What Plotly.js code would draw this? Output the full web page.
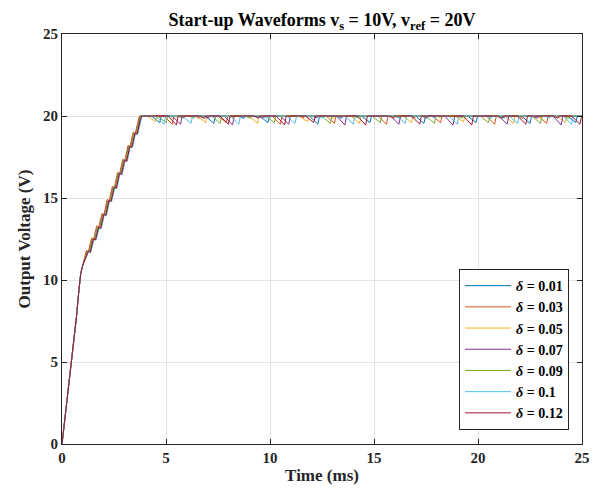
<!DOCTYPE html>
<html>
<head>
<meta charset="utf-8">
<script src="https://cdn.plot.ly/plotly-3.0.1.min.js"></script>
<style>html,body{margin:0;padding:0;background:#fff;}#chart{width:607px;height:500px;}</style>
</head>
<body>
<div id="chart"></div>
<script>
// Series names (legend labels)
const seriesNames = ["<i>δ</i> = 0.01", "<i>δ</i> = 0.03", "<i>δ</i> = 0.05", "<i>δ</i> = 0.07", "<i>δ</i> = 0.09", "<i>δ</i> = 0.1", "<i>δ</i> = 0.12"];
const seriesColors = ["#0072BD", "#D95319", "#EDB120", "#7E2F8E", "#77AC30", "#4DBEEE", "#A2142F"];

// Time (ms) and output voltage (V) for each δ
const t001 = [0,0.1,0.2,0.3,0.4,0.5,0.6,0.7,0.8,0.9,1.0,1.2,1.3,1.45,1.55,1.7,1.8,1.95,2.05,2.2,2.3,2.45,2.55,2.7,2.8,2.95,3.05,3.2,3.3,3.45,3.55,3.7,3.76,4.3,4.7,4.78,5.6,5.85,5.9,6.9,7.3,7.38,8.5,8.75,8.8,9.5,9.9,9.98,11.9,12.3,12.38,13.2,13.45,13.5,14.4,14.8,14.88,16.0,16.25,16.3,17.0,17.4,17.48,19.5,19.9,19.98,21.0,21.25,21.3,22.1,22.5,22.58,24.3,24.7,24.78,25];
const v001 = [0,1.1,2.2,3.3,4.3,5.3,6.5,7.8,9.2,10.4,10.9,11.75,11.7,12.5,12.45,13.2,13.15,14.0,13.95,14.85,14.8,15.65,15.6,16.5,16.45,17.3,17.25,18.15,18.1,18.95,18.9,19.8,20.0,20.0,19.6,20.0,20.0,19.88,20.0,20.0,19.55,20.0,20.0,19.85,20.0,20.0,19.6,20.0,20.0,19.5,20.0,20.0,19.87,20.0,20.0,19.6,20.0,20.0,19.86,20.0,20.0,19.55,20.0,20.0,19.6,20.0,20.0,19.88,20.0,20.0,19.55,20.0,20.0,19.6,20.0,20.0];

const t003 = [0,0.1,0.2,0.3,0.4,0.5,0.6,0.7,0.8,0.9,1.0,1.17,1.27,1.42,1.52,1.67,1.77,1.92,2.02,2.17,2.27,2.42,2.52,2.67,2.77,2.92,3.02,3.17,3.27,3.42,3.52,3.67,3.72,4.9,5.3,5.38,6.4,6.6,6.65,7.5,7.9,7.98,10.1,10.5,10.58,11.4,11.6,11.65,12.7,13.1,13.18,15.2,15.6,15.68,16.7,16.95,17.0,17.8,18.2,18.28,20.4,20.8,20.88,21.9,22.15,22.2,22.9,23.3,23.38,25];
const v003 = [0,1.1,2.2,3.3,4.3,5.3,6.5,7.8,9.2,10.4,10.9,11.8,11.75,12.55,12.5,13.3,13.25,14.05,14.0,14.9,14.85,15.7,15.65,16.55,16.5,17.35,17.3,18.2,18.15,19.0,18.95,19.85,20.0,20.0,19.5,20.0,20.0,19.86,20.0,20.0,19.6,20.0,20.0,19.5,20.0,20.0,19.87,20.0,20.0,19.55,20.0,20.0,19.5,20.0,20.0,19.88,20.0,20.0,19.6,20.0,20.0,19.5,20.0,20.0,19.86,20.0,20.0,19.55,20.0,20.0];

const t005 = [0,0.1,0.2,0.3,0.4,0.5,0.6,0.7,0.8,0.9,1.0,1.24,1.34,1.49,1.59,1.74,1.84,1.99,2.09,2.24,2.34,2.49,2.59,2.74,2.84,2.99,3.09,3.24,3.34,3.49,3.59,3.74,3.8,4.1,4.5,4.58,5.5,5.75,5.8,6.5,6.9,6.98,8.0,8.25,8.3,9.0,9.4,9.48,11.4,11.8,11.88,12.8,13.05,13.1,13.9,14.3,14.38,16.4,16.8,16.88,18.0,18.25,18.3,18.9,19.3,19.38,21.3,21.7,21.78,22.8,23.05,23.1,23.8,24.2,24.28,25];
const v005 = [0,1.1,2.2,3.3,4.3,5.3,6.5,7.8,9.2,10.4,10.9,11.75,11.7,12.5,12.45,13.2,13.15,14.0,13.95,14.85,14.8,15.65,15.6,16.5,16.45,17.3,17.25,18.15,18.1,18.95,18.9,19.8,20.0,20.0,19.65,20.0,20.0,19.88,20.0,20.0,19.6,20.0,20.0,19.87,20.0,20.0,19.55,20.0,20.0,19.65,20.0,20.0,19.86,20.0,20.0,19.55,20.0,20.0,19.6,20.0,20.0,19.88,20.0,20.0,19.65,20.0,20.0,19.55,20.0,20.0,19.87,20.0,20.0,19.6,20.0,20.0];

const t007 = [0,0.1,0.2,0.3,0.4,0.5,0.6,0.7,0.8,0.9,1.0,1.27,1.37,1.52,1.62,1.77,1.87,2.02,2.12,2.27,2.37,2.52,2.62,2.77,2.87,3.02,3.12,3.27,3.37,3.52,3.62,3.77,3.83,5.3,5.7,5.78,6.8,7.05,7.1,7.8,8.2,8.28,9.4,9.65,9.7,10.5,10.9,10.98,12.0,12.25,12.3,13.2,13.6,13.68,15.8,16.2,16.28,17.3,17.55,17.6,18.4,18.8,18.88,21.0,21.4,21.48,22.6,22.85,22.9,23.6,24.0,24.08,25];
const v007 = [0,1.1,2.2,3.3,4.3,5.3,6.5,7.8,9.2,10.4,10.9,11.75,11.7,12.5,12.45,13.2,13.15,14.0,13.95,14.85,14.8,15.65,15.6,16.5,16.45,17.3,17.25,18.15,18.1,18.95,18.9,19.8,20.0,20.0,19.5,20.0,20.0,19.86,20.0,20.0,19.45,20.0,20.0,19.87,20.0,20.0,19.5,20.0,20.0,19.88,20.0,20.0,19.45,20.0,20.0,19.5,20.0,20.0,19.86,20.0,20.0,19.45,20.0,20.0,19.5,20.0,20.0,19.87,20.0,20.0,19.45,20.0,20.0];

const t009 = [0,0.1,0.2,0.3,0.4,0.5,0.6,0.7,0.8,0.9,1.0,1.22,1.32,1.47,1.57,1.72,1.82,1.97,2.07,2.22,2.32,2.47,2.57,2.72,2.82,2.97,3.07,3.22,3.32,3.47,3.57,3.72,3.78,4.6,5.0,5.08,6.1,6.35,6.4,7.2,7.6,7.68,8.8,9.05,9.1,9.8,10.2,10.28,12.5,12.9,12.98,14.0,14.25,14.3,14.9,15.3,15.38,17.5,17.9,17.98,19.0,19.25,19.3,20.1,20.5,20.58,22.6,23.0,23.08,24.1,24.35,24.4,25];
const v009 = [0,1.1,2.2,3.3,4.3,5.3,6.5,7.8,9.2,10.4,10.9,11.75,11.7,12.5,12.45,13.2,13.15,14.0,13.95,14.85,14.8,15.65,15.6,16.5,16.45,17.3,17.25,18.15,18.1,18.95,18.9,19.8,20.0,20.0,19.6,20.0,20.0,19.87,20.0,20.0,19.55,20.0,20.0,19.86,20.0,20.0,19.6,20.0,20.0,19.55,20.0,20.0,19.88,20.0,20.0,19.6,20.0,20.0,19.55,20.0,20.0,19.87,20.0,20.0,19.6,20.0,20.0,19.55,20.0,20.0,19.86,20.0,20.0];

const t010 = [0,0.1,0.2,0.3,0.4,0.5,0.6,0.7,0.8,0.9,1.0,1.29,1.39,1.54,1.64,1.79,1.89,2.04,2.14,2.29,2.39,2.54,2.64,2.79,2.89,3.04,3.14,3.29,3.39,3.54,3.64,3.79,3.85,4.5,4.9,4.98,5.8,6.2,6.28,8.1,8.5,8.58,9.6,9.85,9.9,10.8,11.2,11.28,12.3,12.55,12.6,13.6,14.0,14.08,16.1,16.5,16.58,17.7,17.95,18.0,18.6,19.0,19.08,20.4,20.65,20.7,21.5,21.9,21.98,23.2,23.45,23.5,24.1,24.5,24.58,25];
const v010 = [0,1.1,2.2,3.3,4.3,5.3,6.5,7.8,9.2,10.4,10.9,11.75,11.7,12.5,12.45,13.2,13.15,14.0,13.95,14.85,14.8,15.65,15.6,16.5,16.45,17.3,17.25,18.15,18.1,18.95,18.9,19.8,20.0,20.0,19.5,20.0,20.0,19.55,20.0,20.0,19.5,20.0,20.0,19.86,20.0,20.0,19.55,20.0,20.0,19.87,20.0,20.0,19.5,20.0,20.0,19.55,20.0,20.0,19.88,20.0,20.0,19.5,20.0,20.0,19.86,20.0,20.0,19.55,20.0,20.0,19.87,20.0,20.0,19.5,20.0,20.0];

const t012 = [0,0.1,0.2,0.3,0.4,0.5,0.6,0.7,0.8,0.9,1.0,1.26,1.36,1.51,1.61,1.76,1.86,2.01,2.11,2.26,2.36,2.51,2.61,2.76,2.86,3.01,3.11,3.26,3.36,3.51,3.61,3.76,3.84,5.1,5.5,5.58,6.6,6.85,6.9,7.6,8.0,8.08,9.2,9.45,9.5,10.3,10.7,10.78,11.7,12.1,12.18,14.2,14.6,14.68,15.7,15.95,16.0,16.8,17.2,17.28,19.3,19.7,19.78,20.9,21.15,21.2,21.9,22.3,22.38,23.6,23.85,23.9,24.5,24.9,24.98,25];
const v012 = [0,1.1,2.2,3.3,4.3,5.3,6.5,7.8,9.2,10.4,10.9,11.75,11.7,12.5,12.45,13.2,13.15,14.0,13.95,14.85,14.8,15.65,15.6,16.5,16.45,17.3,17.25,18.15,18.1,18.95,18.9,19.8,20.0,20.0,19.45,20.0,20.0,19.86,20.0,20.0,19.5,20.0,20.0,19.87,20.0,20.0,19.45,20.0,20.0,19.6,20.0,20.0,19.45,20.0,20.0,19.88,20.0,20.0,19.5,20.0,20.0,19.45,20.0,20.0,19.86,20.0,20.0,19.5,20.0,20.0,19.87,20.0,20.0,19.5,20.0,20.0];

const timeSeries = [t001, t003, t005, t007, t009, t010, t012];
const voltSeries = [v001, v003, v005, v007, v009, v010, v012];

const xTicks = [0, 5, 10, 15, 20, 25];
const yTicks = [0, 5, 10, 15, 20, 25];

const FONT = "'Liberation Serif', 'Times New Roman', Times, serif";

const traces = seriesNames.map((name, i) => ({
  x: timeSeries[i],
  y: voltSeries[i],
  type: 'scatter',
  mode: 'lines',
  name: name,
  line: {color: seriesColors[i], width: 1}
}));

const layout = {
  width: 607,
  height: 500,
  margin: {l: 62, r: 25, t: 34, b: 56},
  paper_bgcolor: '#ffffff',
  plot_bgcolor: '#ffffff',
  font: {family: FONT, size: 15, color: '#262626', weight: 'bold'},
  title: {
    text: 'Start-up Waveforms v<sub>s</sub> = 10V, v<sub>ref</sub> = 20V',
    font: {family: FONT, size: 18, color: '#000000', weight: 'bold'},
    x: 0.5, xref: 'paper', xanchor: 'center',
    y: 1, yref: 'paper', yanchor: 'bottom',
    pad: {b: 8}
  },
  xaxis: {
    range: [0, 25],
    tickvals: xTicks,
    ticktext: xTicks.map(String),
    ticks: 'inside', ticklen: 5, tickwidth: 1, tickcolor: '#262626',
    showline: true, linecolor: '#262626', linewidth: 1, mirror: 'ticks',
    showgrid: true, gridcolor: '#e3e3e3', gridwidth: 1,
    zeroline: false,
    tickfont: {family: FONT, size: 15, color: '#262626', weight: 'bold'},
    title: {text: 'Time (ms)', font: {family: FONT, size: 17, color: '#262626', weight: 'bold'}, standoff: 4}
  },
  yaxis: {
    range: [0, 25],
    tickvals: yTicks,
    ticktext: yTicks.map(String),
    ticks: 'inside', ticklen: 5, tickwidth: 1, tickcolor: '#262626',
    showline: true, linecolor: '#262626', linewidth: 1, mirror: 'ticks',
    showgrid: true, gridcolor: '#e3e3e3', gridwidth: 1,
    zeroline: false,
    tickfont: {family: FONT, size: 15, color: '#262626', weight: 'bold'},
    title: {text: 'Output Voltage (V)', font: {family: FONT, size: 17, color: '#262626', weight: 'bold'}, standoff: 8}
  },
  legend: {
    x: 0.975, y: 0.034, xanchor: 'right', yanchor: 'bottom',
    xref: 'paper', yref: 'paper',
    bgcolor: '#ffffff', bordercolor: '#262626', borderwidth: 1,
    font: {family: FONT, size: 14, color: '#000000', weight: 'bold'},
    itemwidth: 46,
    tracegroupgap: 0
  },
  showlegend: true
};

Plotly.newPlot('chart', traces, layout, {displayModeBar: false, staticPlot: true});
</script>
</body>
</html>
